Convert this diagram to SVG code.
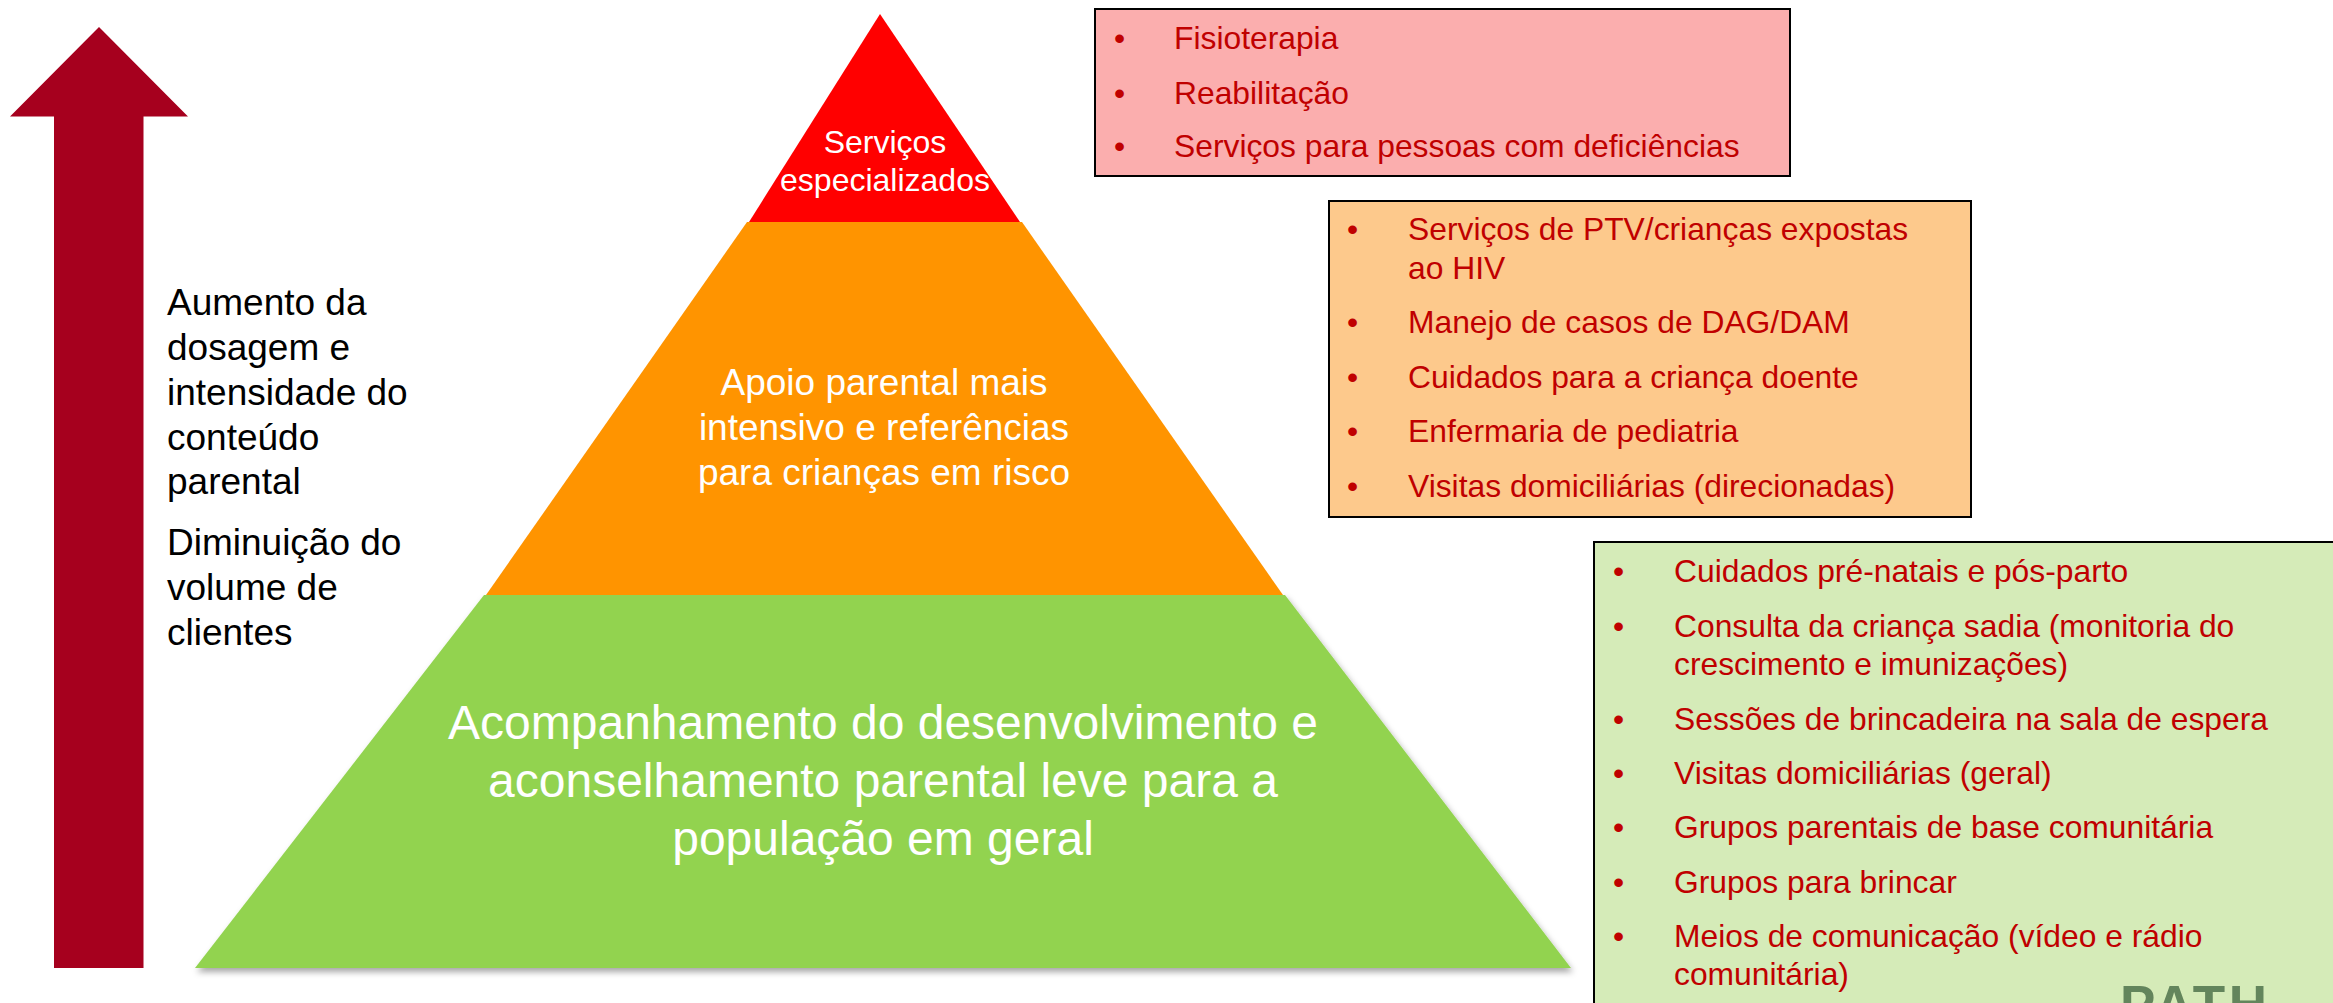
<svg xmlns="http://www.w3.org/2000/svg" width="2333" height="1003" viewBox="0 0 2333 1003">
<style>
text{font-family:"Liberation Sans",Arial,sans-serif}
.box{stroke:#000;stroke-width:2}
.li{font-size:31.800px;fill:#c00000}
.w{fill:#fff;text-anchor:middle}
.k{font-size:37px;fill:#000}
</style>
<defs><filter id="sh" x="-5%" y="-5%" width="110%" height="110%"><feDropShadow dx="2" dy="4" stdDeviation="3" flood-color="#000" flood-opacity=".35"/></filter></defs>
<rect width="2333" height="1003" fill="#fff"/>
<g id="arrow"><polygon points="99,27 188,116.500 143.500,116.500 143.500,968 54,968 54,116.500 10,116.500" fill="#a6001e"/></g>
<g id="label-left">
<text class="k" x="167" y="315">Aumento da</text>
<text class="k" x="167" y="360">dosagem e</text>
<text class="k" x="167" y="405">intensidade do</text>
<text class="k" x="167" y="450">conteúdo</text>
<text class="k" x="167" y="494">parental</text>
<text class="k" x="167" y="555">Diminuição do</text>
<text class="k" x="167" y="600">volume de</text>
<text class="k" x="167" y="645">clientes</text>
</g>
<g id="tier-green"><polygon points="484,595 1285,595 1571,968 195,968" fill="#92d350" filter="url(#sh)"/>
<text class="w" font-size="48" x="883" y="739">Acompanhamento do desenvolvimento e</text>
<text class="w" font-size="48" x="883" y="797">aconselhamento parental leve para a</text>
<text class="w" font-size="48" x="883" y="855">população em geral</text></g>
<g id="tier-orange"><polygon points="747,222 1022,222 1283,595 486,595" fill="#ff9400"/>
<text class="w" font-size="37" x="884" y="395">Apoio parental mais</text>
<text class="w" font-size="37" x="884" y="440">intensivo e referências</text>
<text class="w" font-size="37" x="884" y="485">para crianças em risco</text></g>
<g id="tier-red"><polygon points="880,14 1020,222 749,222" fill="#f00"/>
<text class="w" font-size="32" x="885" y="153">Serviços</text>
<text class="w" font-size="32" x="885" y="191">especializados</text></g>
<g id="box-pink"><rect class="box" x="1095" y="9" width="695" height="167" fill="#fbaeae"/>
<g class="li">
<text x="1114" y="49">•</text><text x="1174" y="49">Fisioterapia</text>
<text x="1114" y="104">•</text><text x="1174" y="104">Reabilitação</text>
<text x="1114" y="157">•</text><text x="1174" y="157">Serviços para pessoas com deficiências</text>
</g></g>
<g id="box-orange"><rect class="box" x="1329" y="201" width="642" height="316" fill="#fdc98c"/>
<g class="li">
<text x="1347" y="240">•</text><text x="1408" y="240">Serviços de PTV/crianças expostas</text>
<text x="1408" y="279">ao HIV</text>
<text x="1347" y="333">•</text><text x="1408" y="333">Manejo de casos de DAG/DAM</text>
<text x="1347" y="388">•</text><text x="1408" y="388">Cuidados para a criança doente</text>
<text x="1347" y="442">•</text><text x="1408" y="442">Enfermaria de pediatria</text>
<text x="1347" y="497">•</text><text x="1408" y="497">Visitas domiciliárias (direcionadas)</text>
</g></g>
<g id="box-green"><rect class="box" x="1594" y="542" width="760" height="480" fill="#d5ebb8"/>
<g class="li">
<text x="1613" y="582">•</text><text x="1674" y="582">Cuidados pré-natais e pós-parto</text>
<text x="1613" y="637">•</text><text x="1674" y="637">Consulta da criança sadia (monitoria do</text>
<text x="1674" y="675">crescimento e imunizações)</text>
<text x="1613" y="730">•</text><text x="1674" y="730">Sessões de brincadeira na sala de espera</text>
<text x="1613" y="784">•</text><text x="1674" y="784">Visitas domiciliárias (geral)</text>
<text x="1613" y="838">•</text><text x="1674" y="838">Grupos parentais de base comunitária</text>
<text x="1613" y="893">•</text><text x="1674" y="893">Grupos para brincar</text>
<text x="1613" y="947">•</text><text x="1674" y="947">Meios de comunicação (vídeo e rádio</text>
<text x="1674" y="985">comunitária)</text>
</g></g>
<g id="logo"><text x="2120" y="1023" font-size="53" font-weight="700" letter-spacing="3.500" fill="#63855c">PATH</text></g>
</svg>
